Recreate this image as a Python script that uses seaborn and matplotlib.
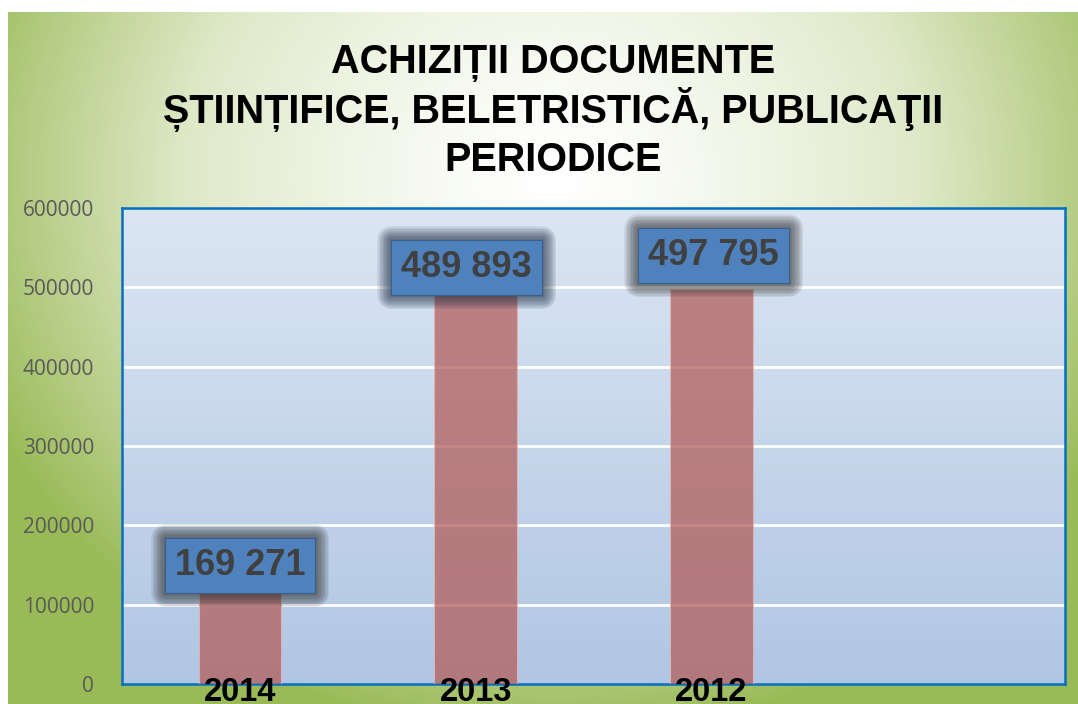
import numpy as np
import pandas as pd
import matplotlib
matplotlib.use("Agg")
import matplotlib.pyplot as plt
import matplotlib.patheffects as pe
from matplotlib.colors import LinearSegmentedColormap
import seaborn as sns

sns.set_theme(style="white")
plt.rcParams['font.family'] = ['Liberation Sans', 'DejaVu Sans']

# -----------------------------
# Data
# -----------------------------
years = ["2014", "2013", "2012", ""]
values = [169271, 489893, 497795, np.nan]
value_labels = ["169 271", "489 893", "497 795"]
yticks = [0, 100000, 200000, 300000, 400000, 500000, 600000]
title_lines = ["ACHIZIȚII DOCUMENTE",
               "ȘTIINȚIFICE, BELETRISTICĂ, PUBLICAŢII",
               "PERIODICE"]

df = pd.DataFrame({"An": years, "Valoare": values})

fig = plt.figure(figsize=(10.78, 7.04), dpi=100)
fig.patch.set_facecolor("white")

# background: radial green gradient panel (white strip at top/left)
bg = fig.add_axes([8 / 1078, 0, 1 - 8 / 1078, 1 - 12 / 704], zorder=-10)
h, w = 692, 1070
yy, xx = np.mgrid[0:h, 0:w]
cx, cy = 545, 165
r = np.sqrt(((xx - cx) / 620) ** 2 + ((yy - cy) / 560) ** 2)
r = np.clip(r, 0, 1) ** 1.3
green_cmap = LinearSegmentedColormap.from_list("g", ["#ffffff", "#dfe9c9", "#9bbb59"])
bg.imshow(r, cmap=green_cmap, vmin=0, vmax=1, aspect="auto", interpolation="bilinear")
bg.set_axis_off()

# plot area
ax = fig.add_axes([122 / 1078, 1 - 684 / 704, (1065 - 122) / 1078, (684 - 208) / 704])
blue_cmap = LinearSegmentedColormap.from_list("b", ["#dce6f2", "#b0c6e3"])
grad = np.linspace(0, 1, 256).reshape(-1, 1)
ax.imshow(grad, cmap=blue_cmap, aspect="auto", extent=[0, 1, 0, 1],
          transform=ax.transAxes, zorder=0)

sns.barplot(data=df, x="An", y="Valoare", order=years, color="#c0504d",
            width=0.35, alpha=0.74, edgecolor="#e8b8b8", linewidth=0.8,
            ax=ax, zorder=3)

ax.set_xlim(-0.5, 3.5)
ax.set_ylim(0, 600000)
ax.set_yticks(yticks)
ax.set_yticklabels([str(v) for v in yticks])
for v in yticks[1:-1]:
    ax.axhline(v, color="white", lw=2, zorder=1)

ax.set_xlabel("")
ax.set_ylabel("")
ax.xaxis.set_zorder(8)
ax.tick_params(axis="y", length=0, pad=20, labelsize=15, labelcolor="#595959")
ax.tick_params(axis="x", length=0, pad=-5, labelsize=23.5)
for lab in ax.get_yticklabels():
    lab.set_family(["Open Sans", "DejaVu Sans"])
for lab in ax.get_xticklabels():
    lab.set_fontweight("bold")
    lab.set_color("black")
for s in ax.spines.values():
    s.set_visible(True)
    s.set_color("#0070c0")
    s.set_linewidth(1.8)

# value labels in blue boxes with soft dark glow
offsets = [(0, -11.5), (-6.5, 20), (1.4, 24)]
glow_colors = ["#303030", "#1f2d44", "#303030"]
for i, (lab, off) in enumerate(zip(value_labels, offsets)):
    t = ax.annotate(lab, (i, values[i]), xytext=off, textcoords="offset points",
                    ha="center", va="center", fontsize=26, fontweight="bold",
                    color="#404040", zorder=6,
                    bbox=dict(boxstyle="square,pad=0.28", fc="#4f81bd", ec="#3a5f8c", lw=0.8))
    glow = [pe.Stroke(linewidth=lw, foreground=glow_colors[i], alpha=0.09, joinstyle="round")
            for lw in range(20, 1, -2)]
    t.get_bbox_patch().set_path_effects(glow + [pe.Normal()])

# title
title_y = [63, 110, 160]
for line, y in zip(title_lines, title_y):
    fig.text(553 / 1078, 1 - y / 704, line, ha="center", va="center",
             fontsize=28.5, fontweight="bold", color="black")

fig.savefig("out.png", dpi=100)
